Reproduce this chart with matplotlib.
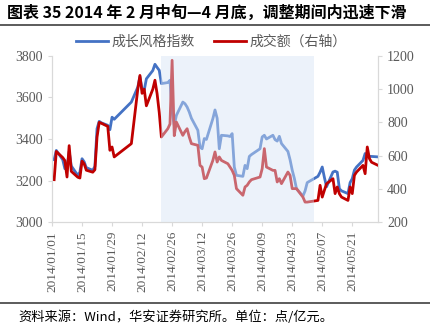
import numpy as np
import pandas as pd
import matplotlib
matplotlib.use("Agg")
import matplotlib.pyplot as plt
import matplotlib.dates as mdates
from matplotlib.lines import Line2D

# 成长风格指数 (左轴)
growth_dates = ["01-02", "01-03", "01-06", "01-07", "01-08", "01-09", "01-10", "01-13", "01-14", "01-15",
                "01-16", "01-17", "01-20", "01-21", "01-22", "01-23", "01-24", "01-27", "01-28", "01-29",
                "01-30", "02-07", "02-10", "02-11", "02-12", "02-13", "02-14", "02-17", "02-18", "02-19",
                "02-20", "02-21", "02-24", "02-25", "02-26", "02-27", "02-28", "03-03", "03-04", "03-05",
                "03-06", "03-07", "03-10", "03-11", "03-12", "03-13", "03-14", "03-17", "03-18", "03-19",
                "03-20", "03-21", "03-24", "03-25", "03-26", "03-27", "03-28", "03-31", "04-01", "04-02",
                "04-03", "04-04", "04-08", "04-09", "04-10", "04-11", "04-14", "04-15", "04-16", "04-17",
                "04-18", "04-21", "04-22", "04-23", "04-24", "04-25", "04-28", "04-29", "04-30", "05-05",
                "05-06", "05-07", "05-08", "05-09", "05-12", "05-13", "05-14", "05-15", "05-16", "05-19",
                "05-20", "05-21", "05-22", "05-23", "05-26", "05-27", "05-28", "05-29", "05-30", "06-03"]
growth_vals = [3300, 3345, 3300, 3257, 3262, 3340, 3270, 3225, 3240, 3305,
               3290, 3262, 3249, 3268, 3450, 3485, 3478, 3466, 3445, 3505,
               3495, 3578, 3650, 3700, 3640, 3635, 3690, 3730, 3760, 3745,
               3731, 3667, 3672, 3683, 3530, 3465, 3514, 3578, 3570, 3554,
               3530, 3500, 3442, 3361, 3353, 3402, 3398, 3498, 3540, 3500,
               3353, 3418, 3415, 3412, 3426, 3265, 3225, 3220, 3273, 3257,
               3316, 3325, 3353, 3410, 3418, 3400, 3418, 3397, 3390, 3413,
               3378, 3340, 3300, 3250, 3210, 3160, 3125, 3150, 3190, 3220,
               3240, 3265, 3215, 3170, 3241, 3245, 3240, 3160, 3150, 3137,
               3190, 3209, 3250, 3265, 3297, 3330, 3318, 3316, 3316, 3313]

# 成交额 (右轴, 亿元)
amount_dates = ["01-02", "01-03", "01-06", "01-07", "01-08", "01-09", "01-10", "01-13", "01-14", "01-15",
                "01-16", "01-17", "01-20", "01-21", "01-22", "01-23", "01-24", "01-27", "01-28", "01-29",
                "01-30", "02-07", "02-10", "02-11", "02-12", "02-13", "02-14", "02-17", "02-18", "02-19",
                "02-20", "02-21", "02-24", "02-25", "02-26", "02-27", "02-28", "03-03", "03-04", "03-05",
                "03-06", "03-07", "03-10", "03-11", "03-12", "03-13", "03-14", "03-17", "03-18", "03-19",
                "03-20", "03-21", "03-24", "03-25", "03-26", "03-27", "03-28", "03-31", "04-01", "04-02",
                "04-03", "04-04", "04-08", "04-09", "04-10", "04-11", "04-14", "04-15", "04-16", "04-17",
                "04-18", "04-21", "04-22", "04-23", "04-24", "04-25", "04-28", "04-29", "04-30", "05-05",
                "05-06", "05-07", "05-08", "05-09", "05-12", "05-13", "05-14", "05-15", "05-16", "05-19",
                "05-20", "05-21", "05-22", "05-23", "05-26", "05-27", "05-28", "05-29", "05-30", "06-03"]
amount_vals = [455, 625, 588, 570, 471, 660, 505, 470, 465, 567,
               550, 512, 500, 515, 712, 800, 795, 776, 632, 652,
               592, 672, 1000, 1083, 975, 1000, 900, 1000, 1054, 973,
               860, 712, 762, 790, 1174, 720, 802, 722, 745, 762,
               712, 672, 662, 541, 531, 461, 465, 571, 622, 561,
               592, 571, 551, 531, 511, 481, 401, 361, 411, 421,
               441, 455, 471, 521, 642, 531, 511, 511, 441, 461,
               431, 501, 481, 401, 401, 401, 350, 320, 320, 330,
               421, 350, 391, 430, 461, 371, 411, 370, 350, 330,
               411, 371, 481, 501, 541, 491, 652, 582, 560, 535]

tick_dates = pd.date_range("2014-01-01", "2014-05-21", freq="14D")
period_start, period_end = "2014-02-21", "2014-05-03"

blue = "#4472C4"
red = "#C00000"
grey = "#595959"
light = "#D9D9D9"
cjk = ["Noto Sans CJK SC", "DejaVu Sans"]
num = ["Liberation Serif", "Noto Sans CJK SC"]

gx = pd.to_datetime(["2014-" + d for d in growth_dates])
ax_x = pd.to_datetime(["2014-" + d for d in amount_dates])

fig = plt.figure(figsize=(4.31, 3.34), dpi=100)
ax = fig.add_axes([52 / 431, 112 / 334, 326 / 431, 166 / 334])
ax2 = ax.twinx()

ax.plot(gx, growth_vals, color=blue, lw=2.0, solid_joinstyle="round")
ax2.plot(ax_x, amount_vals, color=red, lw=2.0, solid_joinstyle="round")
# translucent band over both lines
ax2.axvspan(pd.Timestamp(period_start), pd.Timestamp(period_end),
            color="#D6E4F5", alpha=0.45, lw=0, zorder=10)

ax.set_xlim(pd.Timestamp("2014-01-01"), pd.Timestamp("2014-06-02"))
ax.set_ylim(3000, 3800)
ax2.set_ylim(200, 1200)
ax.set_yticks(np.arange(3000, 3801, 200))
ax2.set_yticks(np.arange(200, 1201, 200))
ax.set_xticks(tick_dates)
ax.xaxis.set_major_formatter(mdates.DateFormatter("%Y/%m/%d"))

for a in (ax, ax2):
    for s in a.spines.values():
        s.set_color(light)
    a.spines["top"].set_visible(False)
    a.tick_params(colors=light, labelcolor=grey, length=3, width=0.8)
    for lab in a.get_yticklabels():
        lab.set_family(num)
        lab.set_fontsize(10)
for lab in ax.get_xticklabels():
    lab.set_family(num)
    lab.set_fontsize(9.5)
    lab.set_rotation(90)

handles = [Line2D([], [], color=blue, lw=2.0), Line2D([], [], color=red, lw=2.0)]
fig.legend(handles, ["成长风格指数", "成交额（右轴）"], loc="center",
           bbox_to_anchor=(211 / 431, 1 - 42 / 334), ncol=2, frameon=False,
           prop={"family": cjk, "size": 10}, labelcolor=grey,
           handlelength=2.3, handletextpad=0.25, columnspacing=1.4)

fig.text(7 / 431, 1 - 13 / 334, "图表 35 2014 年 2 月中旬—4 月底，调整期间内迅速下滑",
         family=cjk, fontsize=11.5, fontweight="bold", va="center", ha="left")
fig.add_artist(Line2D([0, 1], [1 - 25 / 334, 1 - 25 / 334], color="#404040", lw=1.2))
fig.add_artist(Line2D([0, 1], [1 - 303 / 334, 1 - 303 / 334], color="#404040", lw=1.2))
fig.text(18 / 431, 1 - 317 / 334, "资料来源：Wind，华安证券研究所。单位：点/亿元。",
         family=cjk, fontsize=9.5, va="center", ha="left")

fig.savefig("out.png", dpi=100)
